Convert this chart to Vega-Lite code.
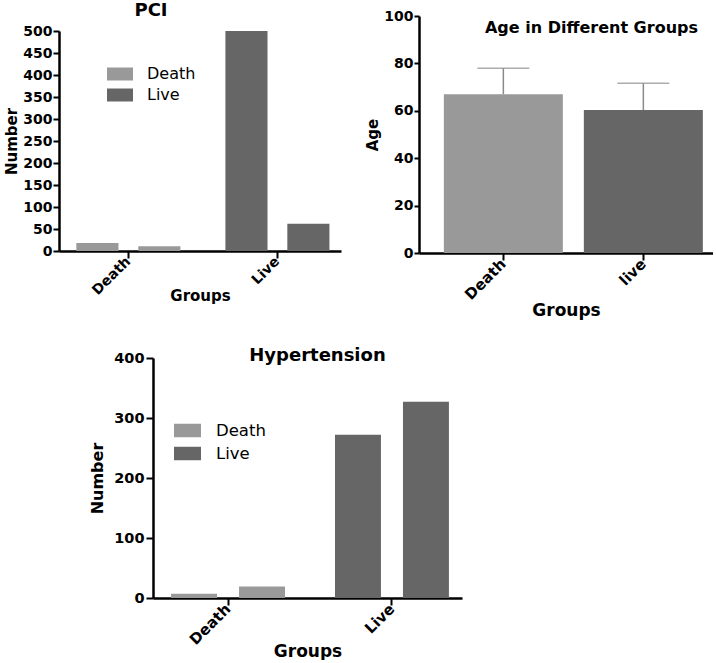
{
  "$schema": "https://vega.github.io/schema/vega-lite/v6.json",
  "padding": {"left": 4, "top": 2, "right": 0, "bottom": 0},
  "background": "white",
  "datasets": {
    "pci": [
      {"group": "Death", "sub": "A", "value": 18},
      {"group": "Death", "sub": "B", "value": 11},
      {"group": "Live", "sub": "A", "value": 500},
      {"group": "Live", "sub": "B", "value": 62}
    ],
    "age": [
      {"group": "Death", "mean": 67, "upper": 78},
      {"group": "live", "mean": 60.3, "upper": 71.6}
    ],
    "hyp": [
      {"group": "Death", "sub": "A", "value": 7},
      {"group": "Death", "sub": "B", "value": 19},
      {"group": "Live", "sub": "A", "value": 272},
      {"group": "Live", "sub": "B", "value": 327}
    ]
  },
  "config": {
    "font": "DejaVu Sans",
    "view": {"stroke": null},
    "axis": {
      "domainColor": "black", "domainWidth": 2.5,
      "tickColor": "black", "tickWidth": 2, "tickSize": 6,
      "labelFont": "DejaVu Sans", "labelFontWeight": "bold", "labelColor": "black",
      "titleFont": "DejaVu Sans", "titleFontWeight": "bold", "titleColor": "black",
      "grid": false
    },
    "title": {"font": "DejaVu Sans", "fontWeight": "bold", "color": "black"},
    "legend": {"labelFont": "DejaVu Sans", "labelColor": "black"}
  },
  "resolve": {"scale": {"color": "independent", "x": "independent", "y": "independent", "xOffset": "independent"}, "legend": {"color": "independent"}},
  "spacing": 28,
  "vconcat": [
    {
      "spacing": 24,
      "resolve": {"scale": {"color": "independent", "x": "independent", "y": "independent", "xOffset": "independent"}, "legend": {"color": "independent"}},
      "hconcat": [
        {
          "bounds": "flush",
          "spacing": 14,
          "resolve": {"scale": {"color": "independent", "x": "independent", "y": "independent", "xOffset": "independent"}, "legend": {"color": "independent"}},
          "vconcat": [
            {"width": 282, "height": 1, "data": {"values": []}, "mark": "point"},
            {
              "width": 282,
              "height": 220,
              "title": {"text": "PCI", "fontSize": 18, "offset": 4, "dx": -49},
              "data": {"name": "pci"},
              "mark": {"type": "bar"},
              "encoding": {
                "x": {
                  "field": "group", "type": "nominal", "sort": ["Death", "Live"],
                  "scale": {"paddingInner": 0.302, "paddingOuter": 0.097, "align": 0.6},
                  "axis": {"title": "Groups", "labelAngle": -45, "labelAlign": "right", "labelBaseline": "middle", "labelFontSize": 14, "labelPadding": 1, "tickSize": 7, "titleFontSize": 15, "titlePadding": -9}
                },
                "xOffset": {"field": "sub", "type": "nominal", "scale": {"paddingInner": 0.32, "paddingOuter": 0}},
                "y": {
                  "field": "value", "type": "quantitative",
                  "scale": {"domain": [0, 500], "nice": false},
                  "axis": {"title": "Number", "values": [0, 50, 100, 150, 200, 250, 300, 350, 400, 450, 500], "labelFontSize": 14, "labelPadding": 1, "titleFontSize": 15, "titlePadding": 3}
                },
                "color": {
                  "field": "group", "type": "nominal",
                  "scale": {"domain": ["Death", "Live"], "range": ["#999999", "#666666"]},
                  "legend": {"orient": "none", "legendX": 48, "legendY": 30, "title": null, "symbolType": "M-1,-0.5H1V0.5H-1Z", "symbolSize": 676, "symbolStrokeWidth": 0, "labelFontSize": 16, "labelOffset": 14, "rowPadding": -3}
                }
              }
            }
          ]
        },
        {
          "width": 294,
          "height": 237,
          "title": {"text": "Age in Different Groups", "fontSize": 16, "anchor": "end", "dx": -15, "offset": -27},
          "data": {"name": "age"},
          "encoding": {
            "x": {
              "field": "group", "type": "nominal", "sort": ["Death", "live"],
              "scale": {"paddingInner": 0.15, "paddingOuter": 0.125, "align": 0.71},
              "axis": {"title": "Groups", "labelAngle": -45, "labelAlign": "right", "labelBaseline": "middle", "labelFontSize": 15, "labelPadding": 1, "tickSize": 7, "titleFontSize": 17, "titlePadding": 0}
            }
          },
          "layer": [
            {
              "mark": {"type": "bar"},
              "encoding": {
                "y": {"field": "mean", "type": "quantitative", "title": "Age", "scale": {"domain": [0, 100], "nice": false}, "axis": {"title": "Age", "values": [0, 20, 40, 60, 80, 100], "labelFontSize": 14, "labelPadding": 1, "tickSize": 5, "titleFontSize": 15, "titlePadding": 3}},
                "color": {"field": "group", "type": "nominal", "scale": {"domain": ["Death", "live"], "range": ["#999999", "#666666"]}, "legend": null}
              }
            },
            {
              "mark": {"type": "rule", "color": "#8a8a8a", "strokeWidth": 1.5},
              "encoding": {"y": {"field": "mean", "type": "quantitative", "title": "Age"}, "y2": {"field": "upper"}}
            },
            {
              "mark": {"type": "tick", "color": "#8a8a8a", "thickness": 1.5, "size": 52},
              "encoding": {"y": {"field": "upper", "type": "quantitative", "title": "Age"}}
            }
          ]
        }
      ]
    },
    {
      "spacing": 23,
      "resolve": {"scale": {"color": "independent", "x": "independent", "y": "independent", "xOffset": "independent"}, "legend": {"color": "independent"}},
      "hconcat": [
        {"width": 7, "height": 10, "data": {"values": []}, "mark": "point"},
        {
          "width": 309,
          "height": 240,
          "title": {"text": "Hypertension", "fontSize": 18, "offset": -15, "dx": 10},
          "data": {"name": "hyp"},
          "mark": {"type": "bar"},
          "encoding": {
            "x": {
              "field": "group", "type": "nominal", "sort": ["Death", "Live"],
              "scale": {"paddingInner": 0.305, "paddingOuter": 0.095, "align": 0.58},
              "axis": {"title": "Groups", "labelAngle": -45, "labelAlign": "right", "labelBaseline": "middle", "labelFontSize": 15, "labelPadding": 1, "tickSize": 7, "titleFontSize": 17, "titlePadding": -4}
            },
            "xOffset": {"field": "sub", "type": "nominal", "scale": {"paddingInner": 0.324, "paddingOuter": 0}},
            "y": {
              "field": "value", "type": "quantitative",
              "scale": {"domain": [0, 400], "nice": false},
              "axis": {"title": "Number", "values": [0, 100, 200, 300, 400], "labelFontSize": 14.5, "labelPadding": 2, "tickSize": 7, "titleFontSize": 16, "titlePadding": 8}
            },
            "color": {
              "field": "group", "type": "nominal",
              "scale": {"domain": ["Death", "Live"], "range": ["#999999", "#666666"]},
              "legend": {"orient": "none", "legendX": 21, "legendY": 59, "title": null, "symbolType": "M-1,-0.5H1V0.5H-1Z", "symbolSize": 729, "symbolStrokeWidth": 0, "labelFontSize": 16.5, "labelOffset": 15, "rowPadding": 1}
            }
          }
        }
      ]
    }
  ]
}
